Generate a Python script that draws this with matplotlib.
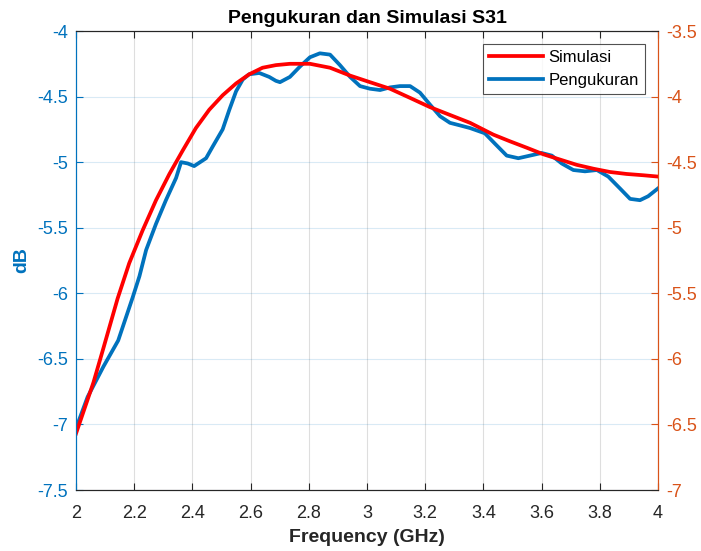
import matplotlib
matplotlib.use('Agg')
from matplotlib import pyplot as plt

plt.rcParams['font.family'] = ['Liberation Sans', 'DejaVu Sans']

# Pengukuran (measured), left axis
f_ukur = [2.0, 2.04, 2.094, 2.145, 2.195, 2.218, 2.241, 2.275, 2.309, 2.344, 2.361,
          2.384, 2.406, 2.447, 2.470, 2.504, 2.527, 2.550, 2.573, 2.595, 2.630,
          2.664, 2.687, 2.701, 2.735, 2.770, 2.804, 2.838, 2.873, 2.907, 2.942,
          2.976, 3.010, 3.045, 3.079, 3.113, 3.148, 3.182, 3.216, 3.251, 3.285,
          3.320, 3.354, 3.405, 3.440, 3.480, 3.520, 3.560, 3.600, 3.635, 3.669,
          3.709, 3.749, 3.790, 3.829, 3.869, 3.904, 3.938, 3.966, 4.0]
s_ukur = [-7.03, -6.79, -6.56, -6.36, -6.03, -5.87, -5.67, -5.47, -5.29, -5.12, -5.0,
          -5.01, -5.03, -4.97, -4.88, -4.75, -4.60, -4.46, -4.37, -4.33, -4.32,
          -4.35, -4.38, -4.39, -4.35, -4.27, -4.20, -4.17, -4.18, -4.26, -4.35,
          -4.42, -4.44, -4.45, -4.43, -4.42, -4.42, -4.47, -4.56, -4.65, -4.70,
          -4.72, -4.74, -4.78, -4.86, -4.95, -4.97, -4.95, -4.93, -4.95, -5.01,
          -5.06, -5.07, -5.06, -5.11, -5.20, -5.28, -5.29, -5.26, -5.20]

# Simulasi, right axis
f_sim = [2.0, 2.06, 2.094, 2.143, 2.183, 2.229, 2.275, 2.321, 2.367, 2.412, 2.458,
         2.504, 2.550, 2.595, 2.641, 2.687, 2.735, 2.804, 2.873, 2.942, 3.010,
         3.079, 3.148, 3.216, 3.285, 3.354, 3.434, 3.490, 3.549, 3.606, 3.663,
         3.720, 3.778, 3.835, 3.892, 3.950, 4.0]
s_sim = [-6.57, -6.18, -5.92, -5.54, -5.27, -5.02, -4.79, -4.59, -4.41, -4.24, -4.10,
         -3.99, -3.90, -3.83, -3.78, -3.76, -3.75, -3.75, -3.78, -3.84, -3.89,
         -3.94, -4.01, -4.08, -4.14, -4.20, -4.29, -4.34, -4.39, -4.44, -4.48,
         -4.52, -4.55, -4.575, -4.59, -4.60, -4.61]

biru = '#0072BD'
oranye = '#D95319'

fig = plt.figure(figsize=(7.01, 5.51), dpi=100)
ax = fig.add_axes([0.1084, 0.1107, 0.8303, 0.833])
ax2 = ax.twinx()

l1, = ax.plot(f_ukur, s_ukur, color=biru, lw=2.7, label='Pengukuran')
l2, = ax2.plot(f_sim, s_sim, color='red', lw=2.7, label='Simulasi')

ax.set_xlim(2, 4)
ax.set_ylim(-7.5, -4)
ax2.set_ylim(-7, -3.5)
ax.set_xticks([2, 2.2, 2.4, 2.6, 2.8, 3, 3.2, 3.4, 3.6, 3.8, 4])
ax.set_xticklabels(['2', '2.2', '2.4', '2.6', '2.8', '3', '3.2', '3.4', '3.6', '3.8', '4'])
ax.set_yticks([-7.5, -7, -6.5, -6, -5.5, -5, -4.5, -4])
ax.set_yticklabels(['-7.5', '-7', '-6.5', '-6', '-5.5', '-5', '-4.5', '-4'])
ax2.set_yticks([-7, -6.5, -6, -5.5, -5, -4.5, -4, -3.5])
ax2.set_yticklabels(['-7', '-6.5', '-6', '-5.5', '-5', '-4.5', '-4', '-3.5'])

ax.xaxis.grid(True, color='#262626', alpha=0.15, lw=0.8)
ax.yaxis.grid(True, color=biru, alpha=0.15, lw=0.8)
ax.set_axisbelow(True)

ax.tick_params(axis='x', direction='in', top=True, colors='#262626', labelsize=13, length=5, pad=10.5)
ax.tick_params(axis='y', direction='in', colors=biru, labelsize=13, length=5, pad=5.5)
ax2.tick_params(axis='y', direction='in', colors=oranye, labelsize=13, length=5, pad=6)

for a in (ax, ax2):
    a.spines['top'].set_color('#262626')
    a.spines['bottom'].set_color('#262626')
    a.spines['left'].set_color(biru)
    a.spines['right'].set_color(oranye)

ax.set_xlabel('Frequency (GHz)', fontsize=14, fontweight='bold', color='#262626', labelpad=5)
ax.set_ylabel('dB', fontsize=14, fontweight='bold', color=biru, labelpad=5.5)
ax.set_title('Pengukuran dan Simulasi S31', fontsize=14, fontweight='bold', pad=6)

leg = ax2.legend([l2, l1], ['Simulasi', 'Pengukuran'], loc='upper right',
                 fancybox=False, edgecolor='#262626', fontsize=12,
                 handlelength=3.2, handletextpad=0.35, borderpad=0.35,
                 labelspacing=0.45, borderaxespad=0.8)
leg.get_frame().set_linewidth(0.8)

plt.savefig('out.png', dpi=100)
